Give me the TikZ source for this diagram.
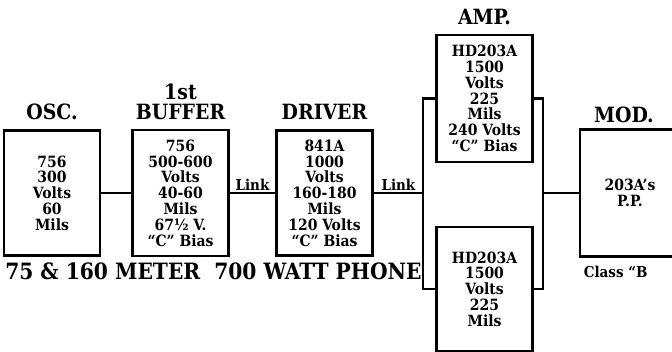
\documentclass[tikz,border=0pt]{standalone}
\usepackage{fontspec}
\setmainfont{DejaVu Serif Condensed}
\begin{document}
\begin{tikzpicture}[x=1pt,y=-1pt,line width=2.6pt,
  box/.style={draw,minimum width=96pt,align=center,inner sep=0pt,font=\fontsize{15.5}{15.8}\selectfont\bfseries},
  head/.style={inner sep=0pt,font=\fontsize{21}{22}\selectfont\bfseries},
  lbl/.style={inner sep=1.5pt,font=\fontsize{15}{16}\selectfont\bfseries}]
\useasboundingbox (0,0) rectangle (672,352);
\clip (0,0) rectangle (672,352);
% stages
\node[box,minimum height=125pt] (osc) at (52,193) {756\\300\\Volts\\60\\Mils};
\node[box,minimum height=126pt] (buffer) at (180.5,193) {756\\500-600\\Volts\\40-60\\Mils\\67½ V.\\``C'' Bias};
\node[box,minimum height=125pt] (driver) at (324.5,193) {841A\\1000\\Volts\\160-180\\Mils\\120 Volts\\``C'' Bias};
\node[box,minimum height=127pt] (amptop) at (484.5,98.5) {HD203A\\1500\\Volts\\225\\Mils\\240 Volts\\``C'' Bias};
\node[box,minimum height=124pt] (ampbot) at (484.5,289) {HD203A\\1500\\Volts\\225\\Mils};
\node[box,minimum width=100pt,minimum height=127pt] (mod) at (630,193) {203A's\\P.P.};
% headings
\node[head] (oscname) at (52,112) {OSC.};
\node[head] (bufnum) at (180.5,92) {1st};
\node[head] (bufname) at (180.5,112) {BUFFER};
\node[head] (drvname) at (324.5,112) {DRIVER};
\node[head] (ampname) at (484.5,17) {AMP.};
\node[head] (modname) at (624,115) {MOD.};
\node[head,anchor=west,font=\fontsize{22.5}{24}\selectfont\bfseries] (band) at (4,271) {75 \& 160 METER\hspace{14pt}700 WATT PHONE};
\node[lbl,anchor=west] (class) at (581,272) {Class ``B};
% links
\coordinate (lj) at (423,193);
\coordinate (rj) at (543,193);
\draw (osc.east) -- (buffer.west);
\draw (buffer.east) -- node[lbl,above]{Link} (driver.west);
\draw (driver.east) -- node[lbl,above]{Link} (lj);
\draw (amptop.west) -| (lj) |- (ampbot.west);
\draw (amptop.east) -| (rj) |- (ampbot.east);
\draw (rj) -- (mod.west);
\end{tikzpicture}
\end{document}
